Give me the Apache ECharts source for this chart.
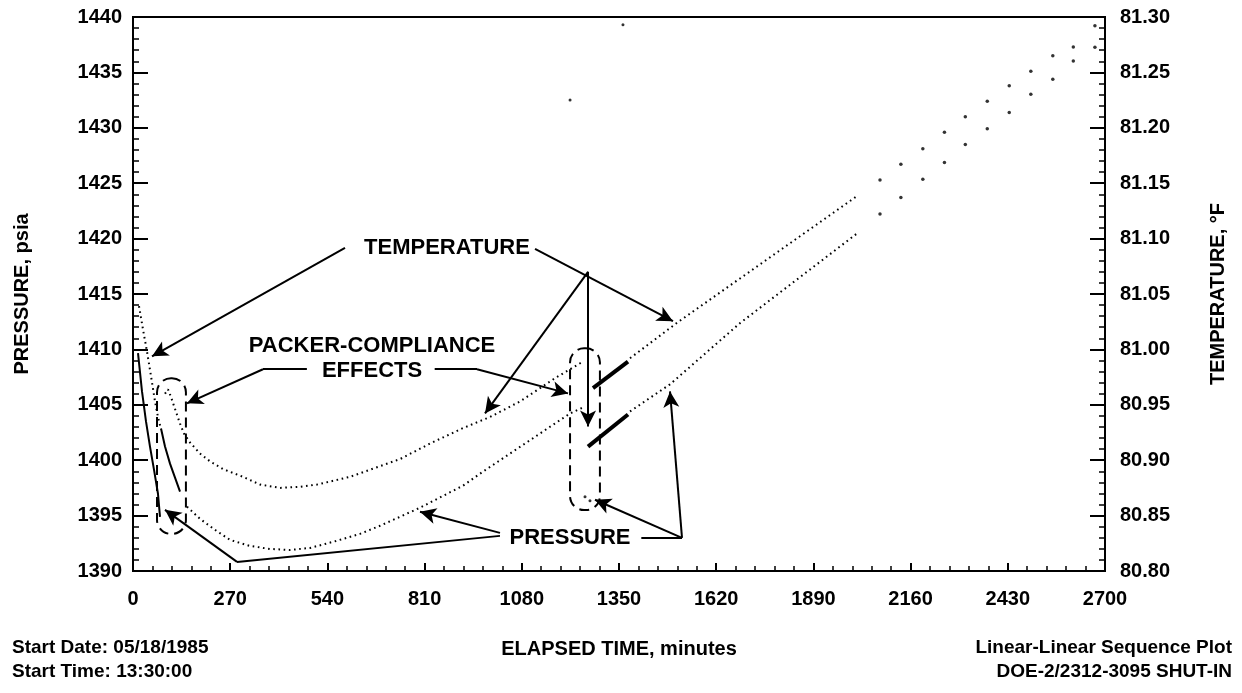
<!DOCTYPE html>
<html>
<head>
<meta charset="utf-8">
<script src="https://cdn.jsdelivr.net/npm/echarts@6/dist/echarts.min.js"></script>
<style>
  html, body { margin: 0; background: #fff; }
  #main { width: 1242px; height: 693px; }
</style>
</head>
<body>
<div id="main"></div>
<script>
// temperature, deg F (right axis)
const tempTime1 = [16.7, 27.8, 38.9, 50.0, 61.1, 69.4, 77.8];
const tempValue1 = [81.039, 81.018, 80.998, 80.976, 80.953, 80.939, 80.928];
const tempTime2 = [88.9, 97.2, 105.6, 113.9, 122.2, 130.6, 141.7, 158.3, 186.1, 213.9, 250, 305.6, 352.8, 408.3,
  463.9, 511.1, 602.8, 672.2, 741.7, 825, 916.7, 991.7, 1075, 1130.6, 1172.2, 1250];
const tempValue2 = [80.960, 80.964, 80.957, 80.949, 80.941, 80.933, 80.924, 80.916, 80.906, 80.899, 80.892, 80.885,
  80.878, 80.875, 80.876, 80.878, 80.885, 80.893, 80.901, 80.915, 80.929, 80.939, 80.953, 80.965, 80.974, 80.989];
const tempBlockTime = [1277.8, 1375];
const tempBlockValue = [80.965, 80.989];
const tempTime3 = [1380.6, 1511.1, 1686, 2013.9];
const tempValue3 = [80.992, 81.024, 81.064, 81.139];
const tailTime = [2075, 2133, 2194, 2254, 2312, 2373, 2434, 2494, 2555, 2612, 2672];
const tempTail = [81.153, 81.167, 81.181, 81.196, 81.210, 81.224, 81.238, 81.251, 81.265, 81.273, 81.292];

// pressure, psia (left axis)
const presTime1 = [13.9, 25, 36.1, 47.2, 58.3, 69.4, 75];
const presValue1 = [1409.66, 1406.21, 1403.50, 1401.23, 1399.15, 1396.97, 1394.89];
const presTime2 = [77.8, 88.9, 102.8, 116.7, 130.6];
const presValue2 = [1402.86, 1401.23, 1399.69, 1398.42, 1397.16];
const presTime3 = [150, 186.1, 227.8, 269.4, 325, 380.6, 436.1, 491.7, 555.6, 630.6, 686.1, 797.2, 916.7, 972.2,
  1130.6, 1213.9, 1250];
const presValue3 = [1395.80, 1394.71, 1393.71, 1392.81, 1392.26, 1391.99, 1391.90, 1392.08, 1392.63, 1393.35,
  1394.08, 1395.71, 1397.70, 1398.97, 1402.41, 1404.22, 1404.76];
const presBlockTime = [1263.9, 1375];
const presBlockValue = [1401.23, 1404.13];
const presTime4 = [1380.6, 1491.7, 1686, 2013.9];
const presValue4 = [1404.40, 1406.85, 1412.37, 1420.53];
const presTail = [1422.22, 1423.70, 1425.35, 1426.87, 1428.50, 1429.92, 1431.37, 1433.03, 1434.38, 1436.04, 1437.26];
const presOddTime = [1255.6, 1269.4, 1361, 1214];
const presOddValue = [1396.70, 1396.34, 1439.3, 1432.5];

// annotation arrows in (minutes, psia): t1, p1, t2, p2, arrowhead
const arrows = [
  [588.9, 1419.17, 52.8, 1409.38, true],
  [1116.7, 1419.08, 1500, 1412.55, true],
  [1264, 1417.0, 977.8, 1404.22, true],
  [1264, 1417.0, 1264, 1403.04, true],
  [483, 1408.21, 361.1, 1408.21, false],
  [361.1, 1408.21, 150, 1405.13, true],
  [838, 1408.21, 955.6, 1408.21, false],
  [955.6, 1408.21, 1208.3, 1406.03, true],
  [1019.4, 1393.44, 797.2, 1395.34, true],
  [1019.4, 1393.17, 288.9, 1390.82, false],
  [288.9, 1390.82, 88.9, 1395.52, true],
  [1412, 1392.99, 1525, 1392.99, false],
  [1525, 1392.99, 1283.3, 1396.43, true],
  [1525, 1392.99, 1491.7, 1406.21, true]
];
const labels = [
  ['TEMPERATURE', 872.2, 1419.17],
  ['PACKER-COMPLIANCE', 664, 1410.29],
  ['EFFECTS', 664, 1408.03],
  ['PRESSURE', 1213.9, 1392.99]
];
const boxes = [
  [66.7, 1407.4, 147, 1393.35],
  [1214, 1410.1, 1297, 1395.5]
];

const font = '"Liberation Sans", Arial, sans-serif';
function zip(a, b) { return a.map(function (v, i) { return [v, b[i]]; }); }

var myChart = echarts.init(document.getElementById('main'));

var dotted = { color: '#000', width: 2, type: [1.6, 3.6] };
var tickY = { show: true, inside: true, length: 15, lineStyle: { color: '#000', width: 2 } };
var minorY = { show: true, splitNumber: 5, length: 6, lineStyle: { color: '#000', width: 1.5 } };
var labelStyle = { fontFamily: font, fontWeight: 'bold', fontSize: 20, color: '#000' };

var option = {
  backgroundColor: '#fff',
  animation: false,
  grid: { left: 133, right: 137, top: 17, bottom: 122, show: true, borderColor: '#000', borderWidth: 2 },
  xAxis: {
    type: 'value', min: 0, max: 2700, interval: 270,
    name: 'ELAPSED TIME, minutes', nameLocation: 'middle', nameGap: 68,
    nameTextStyle: labelStyle,
    axisLine: { lineStyle: { color: '#000', width: 2 } },
    axisTick: { show: true, inside: true, length: 8, lineStyle: { color: '#000', width: 2 } },
    minorTick: { show: true, splitNumber: 5, length: 5, lineStyle: { color: '#000', width: 1.5 } },
    axisLabel: Object.assign({ margin: 18, formatter: function (v) { return String(v); } }, labelStyle),
    splitLine: { show: false }
  },
  yAxis: [
    {
      type: 'value', min: 1390, max: 1440, interval: 5, position: 'left',
      name: 'PRESSURE, psia', nameLocation: 'middle', nameGap: 101, nameRotate: 90,
      nameTextStyle: labelStyle,
      axisLine: { show: true, lineStyle: { color: '#000', width: 2 } },
      axisTick: tickY, minorTick: minorY,
      axisLabel: Object.assign({ margin: 11, formatter: function (v) { return String(v); } }, labelStyle),
      splitLine: { show: false }
    },
    {
      type: 'value', min: 80.8, max: 81.3, interval: 0.05, position: 'right',
      name: 'TEMPERATURE, °F', nameLocation: 'middle', nameGap: 103, nameRotate: 90,
      nameTextStyle: labelStyle,
      axisLine: { show: true, lineStyle: { color: '#000', width: 2 } },
      axisTick: tickY, minorTick: minorY,
      axisLabel: Object.assign({ margin: 15, formatter: function (v) { return v.toFixed(2); } }, labelStyle),
      splitLine: { show: false }
    }
  ],
  series: [
    { name: 'temp1', type: 'line', yAxisIndex: 1, showSymbol: false, lineStyle: dotted, data: zip(tempTime1, tempValue1) },
    { name: 'temp2', type: 'line', yAxisIndex: 1, showSymbol: false, lineStyle: dotted, data: zip(tempTime2, tempValue2) },
    { name: 'tempBlock', type: 'line', yAxisIndex: 1, showSymbol: false, lineStyle: { color: '#000', width: 4 }, data: zip(tempBlockTime, tempBlockValue) },
    { name: 'temp3', type: 'line', yAxisIndex: 1, showSymbol: false, lineStyle: dotted, data: zip(tempTime3, tempValue3) },
    { name: 'tempTail', type: 'scatter', yAxisIndex: 1, symbolSize: 3.5, itemStyle: { color: '#000' }, data: zip(tailTime, tempTail) },
    { name: 'pres1', type: 'line', yAxisIndex: 0, showSymbol: false, lineStyle: { color: '#000', width: 2 }, data: zip(presTime1, presValue1) },
    { name: 'pres2', type: 'line', yAxisIndex: 0, showSymbol: false, lineStyle: { color: '#000', width: 2 }, data: zip(presTime2, presValue2) },
    {
      name: 'pres3', type: 'line', yAxisIndex: 0, showSymbol: false, lineStyle: dotted, data: zip(presTime3, presValue3),
      markLine: {
        silent: true, animation: false, symbolSize: [12, 16],
        label: { show: false },
        lineStyle: { color: '#000', width: 2, type: 'solid' },
        data: arrows.map(function (a) {
          return [
            { coord: [a[0], a[1]], symbol: 'none' },
            { coord: [a[2], a[3]], symbol: a[4] ? 'arrow' : 'none' }
          ];
        })
      }
    },
    { name: 'presBlock', type: 'line', yAxisIndex: 0, showSymbol: false, lineStyle: { color: '#000', width: 4 }, data: zip(presBlockTime, presBlockValue) },
    { name: 'pres4', type: 'line', yAxisIndex: 0, showSymbol: false, lineStyle: dotted, data: zip(presTime4, presValue4) },
    { name: 'presTail', type: 'scatter', yAxisIndex: 0, symbolSize: 3.5, itemStyle: { color: '#000' }, data: zip(tailTime, presTail) },
    { name: 'presOdd', type: 'scatter', yAxisIndex: 0, symbolSize: 3, itemStyle: { color: '#000' }, data: zip(presOddTime, presOddValue) }
  ]
};
myChart.setOption(option);

// annotations and footer texts
var px = function (t, p) { return myChart.convertToPixel({ xAxisIndex: 0, yAxisIndex: 0 }, [t, p]); };
var graphic = [];
boxes.forEach(function (b) {
  var a = px(b[0], b[1]), c = px(b[2], b[3]);
  graphic.push({
    type: 'rect', silent: true,
    shape: { x: a[0], y: a[1], width: c[0] - a[0], height: c[1] - a[1], r: 14 },
    style: { fill: 'none', stroke: '#000', lineWidth: 2, lineDash: [10, 6] }
  });
});
labels.forEach(function (l) {
  var p = px(l[1], l[2]);
  graphic.push({
    type: 'text', silent: true,
    style: { text: l[0], x: p[0], y: p[1], font: 'bold 22px ' + font, fill: '#000', textAlign: 'center', textVerticalAlign: 'middle' }
  });
});
var foot = [
  ['Start Date: 05/18/1985', 12, 648, 'left'],
  ['Start Time: 13:30:00', 12, 672, 'left'],
  ['Linear-Linear Sequence Plot', 1232, 648, 'right'],
  ['DOE-2/2312-3095 SHUT-IN', 1232, 672, 'right']
];
foot.forEach(function (f) {
  graphic.push({
    type: 'text', silent: true,
    style: { text: f[0], x: f[1], y: f[2], font: 'bold 19px ' + font, fill: '#000', textAlign: f[3], textVerticalAlign: 'middle' }
  });
});
myChart.setOption({ graphic: graphic });
</script>
</body>
</html>
